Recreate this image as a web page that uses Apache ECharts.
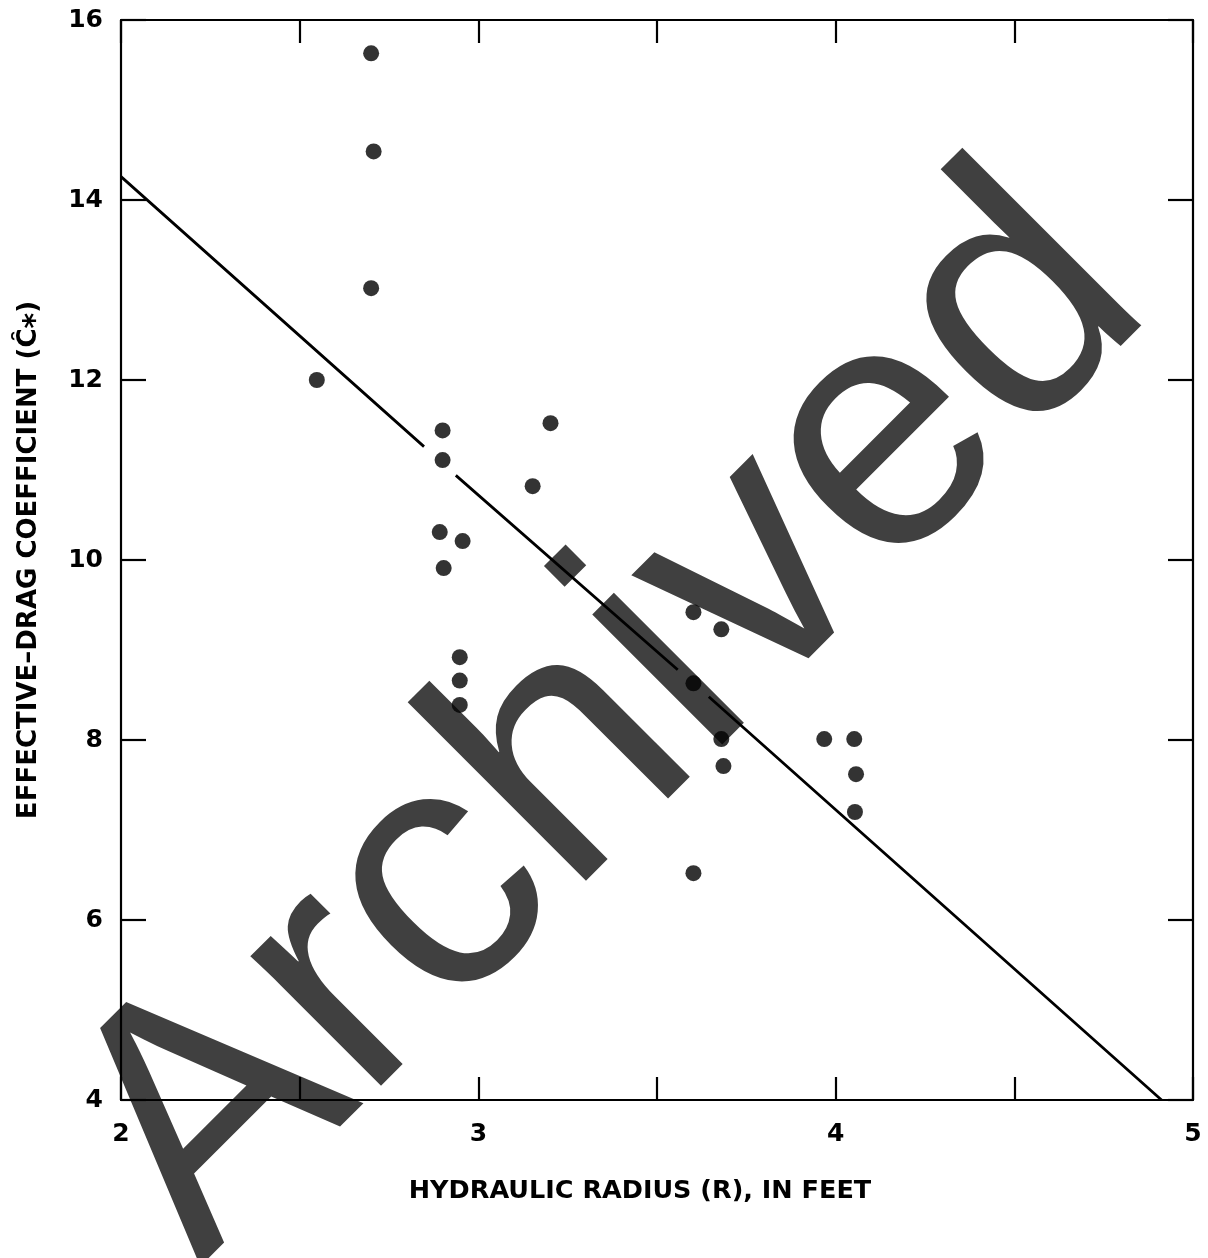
<!DOCTYPE html>
<html>
<head>
<meta charset="utf-8">
<script src="https://cdn.jsdelivr.net/npm/echarts@6/dist/echarts.min.js"></script>
<style>
html,body{margin:0;padding:0;background:#fff;}
#chart{width:1208px;height:1258px;}
</style>
</head>
<body>
<div id="chart"></div>
<script>
// Observed points: hydraulic radius (ft) and effective-drag coefficient
const radiusFt = [2.70, 2.707, 2.70, 2.548, 2.90, 2.90, 3.202, 3.152, 2.892, 2.903, 2.956,
                  2.948, 2.948, 2.948, 3.602, 3.680, 3.602, 3.680, 3.686, 3.602, 3.968, 4.052, 4.057, 4.054];
const dragCoef = [15.63, 14.54, 13.02, 12.00, 11.44, 11.11, 11.52, 10.82, 10.31, 9.91, 10.21,
                  8.92, 8.66, 8.39, 9.42, 9.23, 8.63, 8.01, 7.71, 6.52, 8.01, 8.01, 7.62, 7.20];
// Fitted line, drawn in pieces (breaks around points), null = gap
const lineX = [2.0, 2.848, null, 2.937, 3.558, null, 3.645, 4.912];
const lineY = [14.26, 11.26, null, 10.94, 8.78, null, 8.48, 4.0];
const xTickLabels = ['2', '3', '4', '5'];
const xTitle = 'HYDRAULIC RADIUS (R), IN FEET';
const yTitle = 'EFFECTIVE–DRAG COEFFICIENT';
const watermark = 'Archived';

const points = radiusFt.map((x, i) => [x, dragCoef[i]]);
const linePts = lineX.map((x, i) => (x === null ? '-' : [x, lineY[i]]));

const chart = echarts.init(document.getElementById('chart'));
const FONT = '"DejaVu Sans", sans-serif';
const axisLine = { show: true, lineStyle: { color: '#000', width: 2.2 } };
const tickStyle = { color: '#000', width: 2.2 };

chart.setOption({
  backgroundColor: '#fff',
  animation: false,
  grid: { left: 121, top: 20, right: 15, bottom: 158, containLabel: false, outerBoundsMode: 'none' },
  xAxis: [{
    type: 'value', min: 2, max: 5, interval: 0.5, position: 'bottom',
    axisLine: axisLine,
    axisTick: { show: true, inside: true, length: 23, lineStyle: tickStyle },
    splitLine: { show: false },
    axisLabel: {
      margin: 22, color: '#000', fontFamily: FONT, fontWeight: 'bold', fontSize: 25,
      formatter: v => (Number.isInteger(v) ? xTickLabels[v - 2] : '')
    },
    name: xTitle, nameLocation: 'middle', nameGap: 78,
    nameTextStyle: { color: '#000', fontFamily: FONT, fontWeight: 'bold', fontSize: 25.5, padding: [0, 34, 0, 0] }
  }, {
    type: 'value', min: 2, max: 5, interval: 0.5, position: 'top',
    axisLine: axisLine,
    axisTick: { show: true, inside: true, length: 23, lineStyle: tickStyle },
    splitLine: { show: false }, axisLabel: { show: false }
  }],
  yAxis: [{
    type: 'value', min: 4, max: 16, interval: 2, position: 'left',
    axisLine: axisLine,
    axisTick: { show: true, inside: true, length: 25, lineStyle: tickStyle },
    splitLine: { show: false },
    axisLabel: { margin: 18, color: '#000', fontFamily: FONT, fontWeight: 'bold', fontSize: 25 },
    name: yTitle + ' ({c|C\u0311}{s|*})', nameLocation: 'middle', nameGap: 70,
    nameTextStyle: {
      color: '#000', fontFamily: FONT, fontWeight: 'bold', fontSize: 26,
      rich: {
        c: { color: '#000', fontFamily: FONT, fontWeight: 'bold', fontSize: 26 },
        s: { color: '#000', fontFamily: FONT, fontWeight: 'bold', fontSize: 30, padding: [14, 0, 0, 0] }
      }
    }
  }, {
    type: 'value', min: 4, max: 16, interval: 2, position: 'right',
    axisLine: axisLine,
    axisTick: { show: true, inside: true, length: 25, lineStyle: tickStyle },
    splitLine: { show: false }, axisLabel: { show: false }
  }],
  graphic: [{
    type: 'text', z: -10, x: 255, y: 1322, rotation: Math.PI / 4,
    style: {
      text: watermark, fill: '#404040',
      font: 'normal 348px "Liberation Sans", Arial, sans-serif',
      textAlign: 'left', textVerticalAlign: 'bottom'
    }
  }],
  series: [{
    type: 'line', data: linePts, showSymbol: false, symbol: 'none', connectNulls: false,
    lineStyle: { color: '#000', width: 2.8 }, z: 3
  }, {
    type: 'scatter', data: points, symbol: 'circle', symbolSize: 16,
    itemStyle: { color: '#000' }, z: 4
  }]
});
</script>
</body>
</html>
